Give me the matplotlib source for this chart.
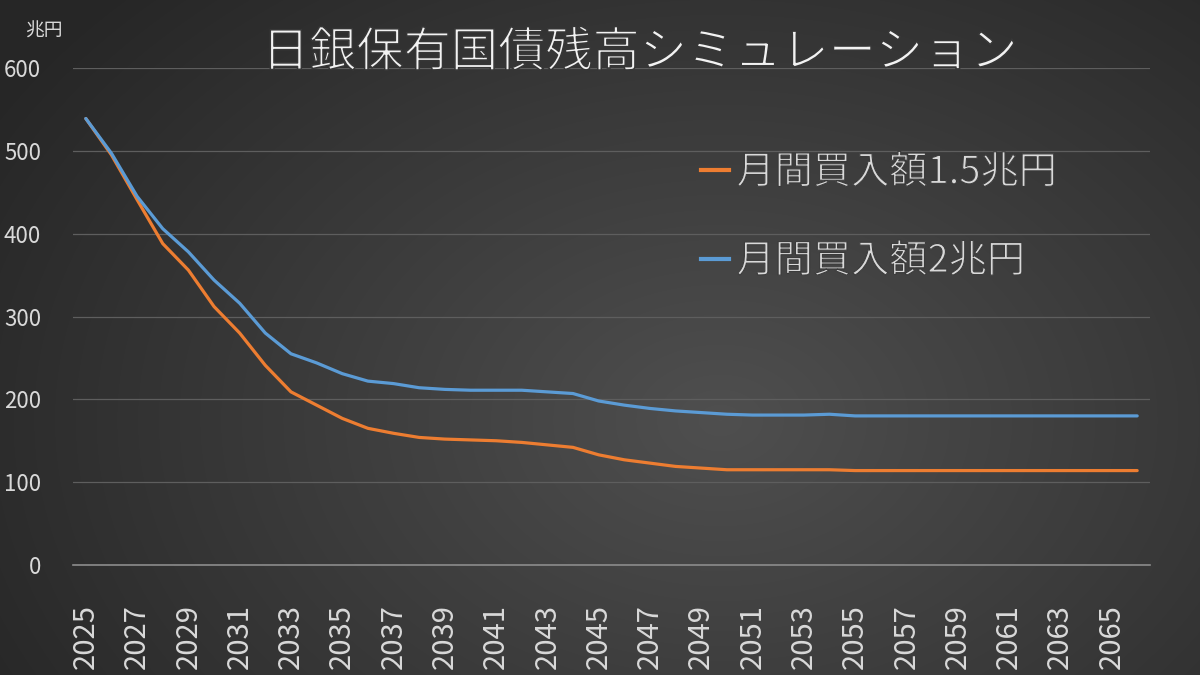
import numpy as np
import matplotlib.pyplot as plt
import matplotlib.patheffects as pe
from matplotlib.lines import Line2D

plt.rcParams['font.family'] = ['Noto Sans CJK JP', 'DejaVu Sans']

years = list(range(2025, 2067))
buy_15 = [539, 495, 441, 388, 356, 312, 280, 241, 209, 193, 177, 165, 159, 154, 152, 151, 150, 148,
          145, 142, 133, 127, 123, 119, 117, 115, 115, 115, 115, 115, 114, 114, 114, 114, 114, 114,
          114, 114, 114, 114, 114, 114]
buy_20 = [539, 497, 445, 406, 378, 344, 316, 280, 255, 244, 231, 222, 219, 214, 212, 211, 211, 211,
          209, 207, 198, 193, 189, 186, 184, 182, 181, 181, 181, 182, 180, 180, 180, 180, 180, 180,
          180, 180, 180, 180, 180, 180]
tick_years = years[::2]

fig = plt.figure(figsize=(12, 6.75), dpi=100)

# radial gradient background
bg = fig.add_axes([0, 0, 1, 1], zorder=0)
yy, xx = np.mgrid[0:675, 0:1200]
r = np.sqrt(((xx - 720) / 900.0) ** 2 + ((yy - 420) / 650.0) ** 2)
shade = np.clip(0.31 - 0.17 * r, 0.15, 0.31)
bg.imshow(np.dstack([shade] * 3), aspect='auto', extent=[0, 1, 0, 1])
bg.axis('off')

ax = fig.add_axes([73 / 1200, 1 - 565 / 675, 1077 / 1200, 497 / 675], zorder=1)
ax.patch.set_alpha(0)

ax.plot(years, buy_15, color='#ED7D31', lw=2.3, solid_capstyle='round', solid_joinstyle='round')
ax.plot(years, buy_20, color='#5B9BD5', lw=2.3, solid_capstyle='round', solid_joinstyle='round')

ax.set_xlim(2024.5, 2066.5)
ax.set_ylim(0, 600)
ax.set_yticks(range(0, 601, 100))
ax.set_xticks(tick_years)
ax.grid(axis='y', color='#5e5e5e', lw=0.9)
ax.set_axisbelow(True)
for s in ['top', 'right', 'left']:
    ax.spines[s].set_visible(False)
ax.spines['bottom'].set_color('#8c8c8c')
ax.spines['bottom'].set_linewidth(1.2)
ax.tick_params(axis='both', length=0, colors='#d9d9d9')
ax.tick_params(axis='y', labelsize=16, pad=23)
ax.tick_params(axis='x', labelsize=21, pad=28, labelrotation=90)

# thin the glyphs a little (no light weight installed)
thin = [pe.Normal(), pe.Stroke(linewidth=1.1, foreground='#363636')]

fig.text(25 / 1200, 1 - 31 / 675, '兆円', color='#d9d9d9', fontsize=13.5, va='center', ha='left')
fig.text(640 / 1200, 1 - 53 / 675, '日銀保有国債残高シミュレーション', color='#f2f2f2',
         fontsize=34, ha='center', va='center', path_effects=thin)

handles = [Line2D([], [], color='#ED7D31', lw=3),
           Line2D([], [], color='#5B9BD5', lw=3)]
leg = fig.legend(handles, ['月間買入額1.5兆円', '月間買入額2兆円'], loc='upper left',
                 bbox_to_anchor=(667 / 1200, 1 - 119 / 675), frameon=False, fontsize=27.5,
                 labelcolor='#d9d9d9', handlelength=0.72, handletextpad=0.2, labelspacing=1.3)
for t in leg.get_texts():
    t.set_path_effects([pe.Normal(), pe.Stroke(linewidth=0.8, foreground='#3a3a3a')])

fig.savefig('out.png', dpi=100)
